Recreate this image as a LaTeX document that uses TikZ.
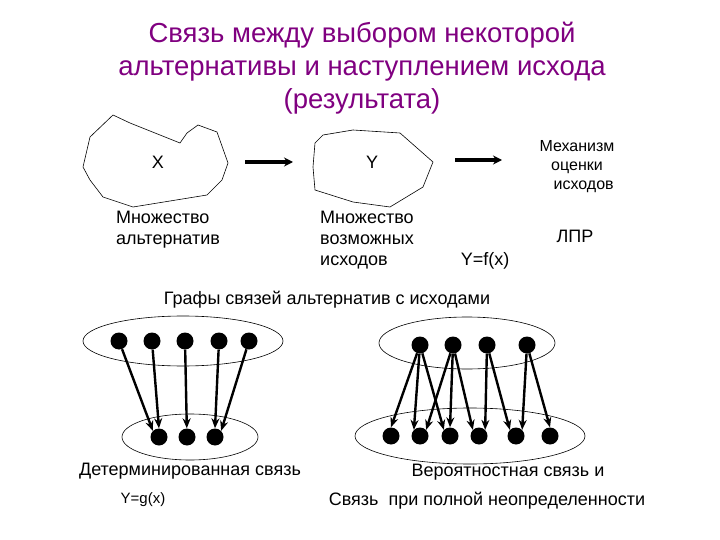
\documentclass[tikz,border=0pt]{standalone}
\usepackage{fontspec}
\setmainfont{Liberation Sans}
\usetikzlibrary{arrows.meta}
\definecolor{ttl}{RGB}{128,0,128}
\begin{document}
\begin{tikzpicture}[x=1pt,y=-1pt,
  lbl/.style={font=\fontsize{18}{21}\selectfont, align=left, inner sep=0},
  dot/.style={circle, fill=black, minimum size=17, inner sep=0},
  arr/.style={-{Stealth[length=10,width=8]}, line width=2.4},
  big/.style={-{Stealth[length=9,width=9]}, line width=3.5},
  blob/.style={draw, line width=0.6},
  ell/.style={draw, line width=0.6}]
\useasboundingbox (0,0) rectangle (720,540);
\node[font=\fontsize{27.5}{33}\selectfont, text=ttl, align=center] (title) at (362,68)
  {Связь между выбором некоторой\\альтернативы и наступлением исхода\\(результата)};
\draw[blob] (83,167) -- (90,137) -- (113,115) -- (130,123) -- (180,143) -- (187,133) -- (198,125) -- (217,132) -- (228,163) -- (222,180) -- (207,195) -- (133,207) -- (103,197) -- (90,180) -- cycle;
\draw[blob] (313,167) -- (315,143) -- (323,135) -- (353,130) -- (400,133) -- (433,162) -- (423,187) -- (390,207) -- (353,202) -- (315,190) -- cycle;
\node[lbl] (X) at (158,162) {X};
\node[lbl] (Y) at (372,162) {Y};
\coordinate (a1) at (245,162); \coordinate (a2) at (293,162);
\draw[big] (a1) -- (a2);
\coordinate (b1) at (455,160); \coordinate (b2) at (502,160);
\draw[big] (b1) -- (b2);
\node[lbl, align=center, font=\fontsize{16}{19}\selectfont] (mech) at (577,167) {Механизм\\оценки\\\ \ \ исходов};
\node[lbl] (mx) at (168,230) {Множество\\альтернатив};
\node[lbl] (my) at (367,240) {Множество\\возможных\\исходов};
\node[lbl] (lpr) at (575,236) {ЛПР};
\node[lbl] (fx) at (485,261) {Y=f(x)};
\node[lbl] (gr) at (327,300) {Графы связей альтернатив с исходами};
% left graph
\draw[ell] (183,341) ellipse [x radius=100, y radius=25];
\draw[ell] (190,437) ellipse [x radius=68, y radius=23];
\foreach \i/\x in {1/119,2/152,3/185,4/219,5/249} \node[dot] (L\i) at (\x,341) {};
\foreach \i/\x in {1/159,2/187,3/215} \node[dot] (M\i) at (\x,437) {};
\draw[arr] (L1) -- (M1.north west);
\draw[arr] (L2) -- (M1.north);
\draw[arr] (L3) -- (M2);
\draw[arr] (L4) -- (M3.north);
\draw[arr] (L5) -- (M3.north east);
% right graph
\draw[ell] (467,343) ellipse [x radius=88, y radius=26];
\draw[ell] (470,436) ellipse [x radius=115, y radius=28];
\foreach \i/\x in {1/420,2/453,3/487,4/527} \node[dot] (R\i) at (\x,345) {};
\foreach \i/\x in {1/391,2/420,3/450,4/479,5/516,6/550} \node[dot] (S\i) at (\x,436) {};
\draw[arr] (R1) -- (S1.north);
\draw[arr] (R1) -- (S2.north west);
\draw[arr] (R1) -- (S3.north west);
\draw[arr] (R2) -- (S2.north east);
\draw[arr] (R2) -- (S3.north);
\draw[arr] (R2) -- (S4.north west);
\draw[arr] (R3) -- (S4.north east);
\draw[arr] (R3) -- (S5.north west);
\draw[arr] (R4) -- (S5.north east);
\draw[arr] (R4) -- (S6.north);
\node[lbl] (det) at (190,471) {Детерминированная связь};
\node[lbl, font=\fontsize{15}{17}\selectfont] (gx) at (143,500) {Y=g(x)};
\node[lbl] (ver) at (508,472) {Вероятностная связь и};
\node[lbl] (neo) at (487,501) {Связь\ \ при полной неопределенности};
\end{tikzpicture}
\end{document}
